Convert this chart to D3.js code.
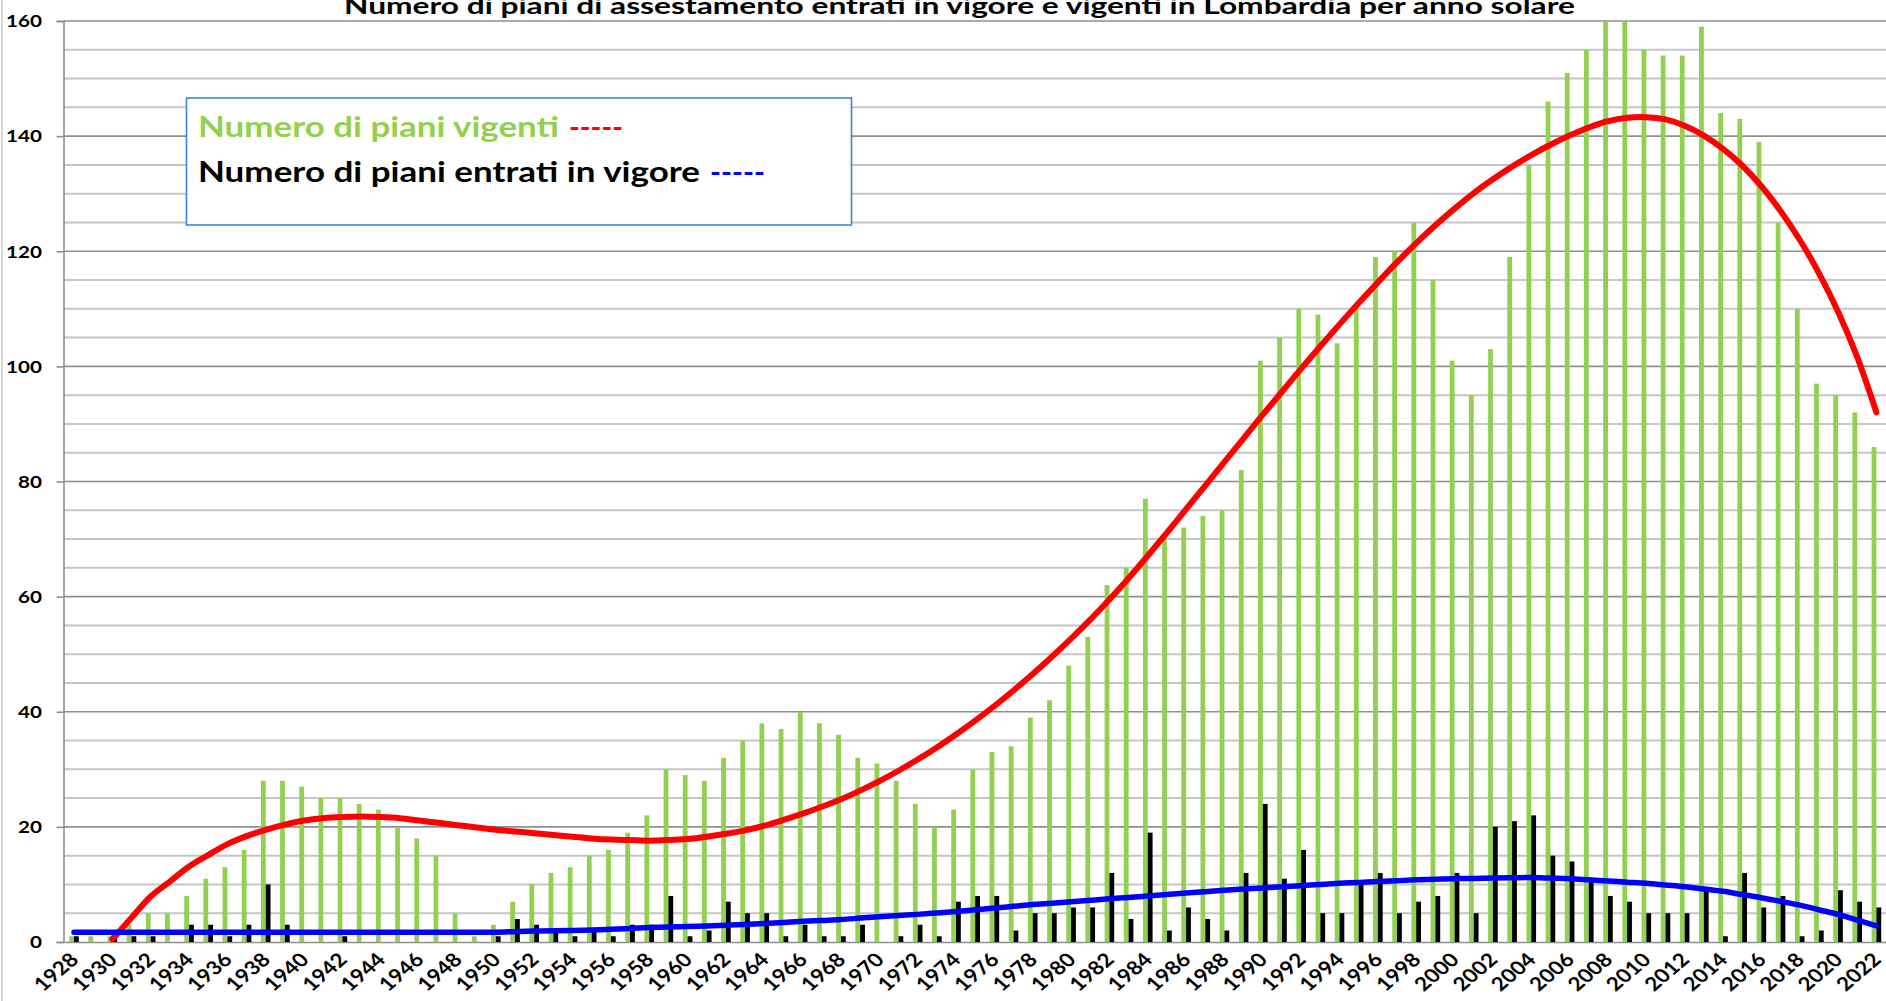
<!DOCTYPE html>
<html><head><meta charset="utf-8">
<script src="https://cdn.jsdelivr.net/npm/d3@7/dist/d3.min.js"></script>
<style>
html,body{margin:0;padding:0;background:#fff;overflow:hidden}
svg{display:block}
text{font-family:Lato,"Open Sans",sans-serif;font-weight:bold}
</style></head><body>
<svg id="c" width="1886" height="1001"></svg>
<script>
const titleText = "Numero di piani di assestamento entrati in vigore e vigenti in Lombardia per anno solare";
const legendGreen = "Numero di piani vigenti";
const legendBlack = "Numero di piani entrati in vigore";

const years = [1928,1929,1930,1931,1932,1933,1934,1935,1936,1937,1938,1939,1940,1941,1942,1943,1944,1945,1946,1947,
1948,1949,1950,1951,1952,1953,1954,1955,1956,1957,1958,1959,1960,1961,1962,1963,1964,1965,1966,1967,
1968,1969,1970,1971,1972,1973,1974,1975,1976,1977,1978,1979,1980,1981,1982,1983,1984,1985,1986,1987,
1988,1989,1990,1991,1992,1993,1994,1995,1996,1997,1998,1999,2000,2001,2002,2003,2004,2005,2006,2007,
2008,2009,2010,2011,2012,2013,2014,2015,2016,2017,2018,2019,2020,2021,2022];

// Numero di piani vigenti (green bars)
const vigenti = [1,1,1,3,5,5,8,11,13,16,28,28,27,25,25,24,23,20,18,15,
5,1,3,7,10,12,13,15,16,19,22,30,29,28,32,35,38,37,40,38,
36,32,31,28,24,20,23,30,33,34,39,42,48,53,62,65,77,70,72,74,
75,82,101,105,110,109,104,110,119,120,125,115,101,95,103,119,135,146,151,155,
160,160,155,154,154,159,144,143,139,125,110,97,95,92,86];

// Numero di piani entrati in vigore (black bars)
const entrati = [1,0,1,1,1,0,3,3,1,3,10,3,0,0,1,0,0,0,0,0,
0,0,1,4,3,2,1,2,1,3,3,8,1,2,7,5,5,1,3,1,
1,3,0,1,3,1,7,8,8,2,5,5,6,6,12,4,19,2,6,4,
2,12,24,11,16,5,5,10,12,5,7,8,12,5,20,21,22,15,14,11,
8,7,5,5,5,9,1,12,6,8,1,2,9,7,6];

// Trend line (red) for vigenti, aligned to years
const trendVigenti = [null,null,0.5,4.2,7.9,10.5,13.1,15.1,17.0,18.4,19.5,20.4,21.1,21.5,21.7,21.8,21.7,21.5,21.1,20.7,
20.3,19.9,19.5,19.2,18.9,18.6,18.3,18.0,17.8,17.7,17.6,17.7,17.9,18.3,18.8,19.4,20.2,21.2,22.3,23.5,
24.8,26.3,27.95,29.75,31.7,33.8,36.05,38.45,41.0,43.7,46.55,49.55,52.7,56.0,59.5,63.2,67.1,71.1,75.2,79.3,
83.4,87.5,91.6,95.6,99.6,103.5,107.3,111.0,114.6,118.1,121.4,124.5,127.4,130.1,132.5,134.7,136.7,138.5,140.1,141.5,
142.6,143.2,143.3,142.9,141.8,140.1,137.8,134.9,131.3,127.0,122.0,116.2,109.5,101.6,92.0];

// Trend line (blue) for entrati, aligned to years
const trendEntrati = [1.7,1.7,1.7,1.7,1.7,1.7,1.7,1.7,1.7,1.7,1.7,1.7,1.7,1.7,1.7,1.7,1.7,1.7,1.7,1.7,
1.7,1.7,1.7,1.8,1.9,1.95,2.0,2.1,2.2,2.35,2.5,2.6,2.7,2.8,2.9,3.05,3.2,3.4,3.6,3.75,
3.9,4.15,4.4,4.6,4.8,5.05,5.3,5.6,5.9,6.2,6.5,6.75,7.0,7.25,7.5,7.75,8.0,8.25,8.5,8.75,
9.0,9.2,9.4,9.6,9.8,10.0,10.2,10.35,10.5,10.65,10.8,10.9,11.0,11.05,11.1,11.15,11.2,11.1,11.0,10.8,
10.6,10.4,10.2,9.9,9.6,9.2,8.8,8.25,7.7,7.05,6.4,5.6,4.8,3.8,2.8];

const yTicks = [0,20,40,60,80,100,120,140,160];
const xTickLabels = ["1928","1930","1932","1934","1936","1938","1940","1942","1944","1946","1948","1950",
"1952","1954","1956","1958","1960","1962","1964","1966","1968","1970","1972","1974","1976","1978","1980",
"1982","1984","1986","1988","1990","1992","1994","1996","1998","2000","2002","2004","2006","2008","2010",
"2012","2014","2016","2018","2020","2022"];

const svg = d3.select("#c");
const SX = 1.18; // horizontal stretch of the original screenshot

const x = d3.scaleBand().domain(years).range([64.4, 1886]).padding(0);
const bw = x.bandwidth();
const sub = d3.scaleBand().domain(["v","e"]).range([bw/2 - 4.8, bw/2 + 4.8]).padding(0);
const y = d3.scaleLinear().domain([0,160]).range([942,21]);

// left spreadsheet border
svg.append("line").attr("x1",2).attr("x2",2).attr("y1",0).attr("y2",1001)
  .attr("stroke","#c8c8c8").attr("stroke-width",1.5);

// gridlines
const grid = svg.append("g");
y.ticks(40).filter(v => v > 0).forEach(v => {
  const major = v % 20 === 0;
  grid.append("line").attr("x1",63.5).attr("x2",1886).attr("y1",y(v)).attr("y2",y(v))
    .attr("stroke", major ? "#8f8f8f" : "#c6c6c6").attr("stroke-width", major ? 1.6 : 2);
});

// y axis
const yAxis = svg.append("g").attr("transform","translate(63.5,0)")
  .call(d3.axisLeft(y).tickValues(yTicks).tickSize(7).tickFormat(""));
yAxis.select(".domain").attr("stroke","#8f8f8f").attr("stroke-width",1.6);
yAxis.selectAll(".tick line").attr("stroke","#8f8f8f").attr("stroke-width",1.6);
svg.append("g").selectAll("text").data(yTicks).join("text")
  .attr("transform", d => `translate(42,${y(d)}) scale(${SX},1)`)
  .attr("text-anchor","end").attr("dy","0.36em")
  .attr("font-size",17.5).attr("fill","#000").text(d => d);

// x axis line
const xAxis = svg.append("g").attr("transform",`translate(0,${y(0)})`)
  .call(d3.axisBottom(x).tickValues([]).tickSize(0).tickSizeOuter(0));
xAxis.select(".domain").attr("stroke","#8f8f8f").attr("stroke-width",1.6);

// bars
const bars = svg.append("g");
bars.selectAll("rect.v").data(years).join("rect").attr("class","v")
  .attr("x", d => x(d) + sub("v")).attr("width", sub.bandwidth())
  .attr("y", (d,i) => y(vigenti[i])).attr("height", (d,i) => y(0) - y(vigenti[i]))
  .attr("fill","#92d050");
bars.selectAll("rect.e").data(years).join("rect").attr("class","e")
  .attr("x", d => x(d) + sub("e")).attr("width", sub.bandwidth())
  .attr("y", (d,i) => y(entrati[i])).attr("height", (d,i) => y(0) - y(entrati[i]))
  .attr("fill","#000");

// x labels
svg.append("g").selectAll("text").data(xTickLabels).join("text")
  .attr("transform", d => `translate(${x(+d) + bw/2 + 6},${y(0) + 19}) scale(${SX},1) rotate(-45)`)
  .attr("text-anchor","end").attr("font-size",19).attr("fill","#000").text(d => d);

// trend lines
svg.append("clipPath").attr("id","plotclip").append("rect")
  .attr("x",63.5).attr("y",y(160)-10).attr("width",1886-63.5).attr("height",y(0)-y(160)+10);
const line = d3.line().defined(d => d.v !== null)
  .x(d => x(d.year) + bw/2).y(d => y(d.v)).curve(d3.curveCatmullRom.alpha(0.5));
const redData = years.map((yr,i) => ({year: yr, v: trendVigenti[i]}));
const blueData = years.map((yr,i) => ({year: yr, v: trendEntrati[i]}));
const tl = svg.append("g").attr("clip-path","url(#plotclip)");
tl.append("path").datum(redData).attr("d", line).attr("fill","none")
  .attr("stroke","#ff0000").attr("stroke-width",6).attr("stroke-linecap","round");
tl.append("path").datum(blueData).attr("d", line).attr("fill","none")
  .attr("stroke","#0000ff").attr("stroke-width",5.5).attr("stroke-linecap","round");

// title
svg.append("text").attr("x",959.5).attr("y",14).attr("text-anchor","middle")
  .attr("font-size",22).attr("fill","#000")
  .attr("textLength",1231).attr("lengthAdjust","spacingAndGlyphs").text(titleText);

// legend box
const lg = svg.append("g");
lg.append("rect").attr("x",186.5).attr("y",98).attr("width",665).attr("height",127)
  .attr("fill","#fff").attr("stroke","#3b86cf").attr("stroke-width",1.6);
lg.append("text").attr("x",198).attr("y",137).attr("font-size",28).attr("fill","#92d050")
  .attr("textLength",361).attr("lengthAdjust","spacingAndGlyphs").text(legendGreen);
lg.append("text").attr("x",569).attr("y",137).attr("font-size",28).attr("fill","#ff0000")
  .attr("textLength",54).attr("lengthAdjust","spacingAndGlyphs").text("-----");
lg.append("text").attr("x",198).attr("y",182).attr("font-size",28).attr("fill","#000")
  .attr("textLength",502).attr("lengthAdjust","spacingAndGlyphs").text(legendBlack);
lg.append("text").attr("x",710).attr("y",182).attr("font-size",28).attr("fill","#0000ff")
  .attr("textLength",55).attr("lengthAdjust","spacingAndGlyphs").text("-----");
</script>
</body></html>
